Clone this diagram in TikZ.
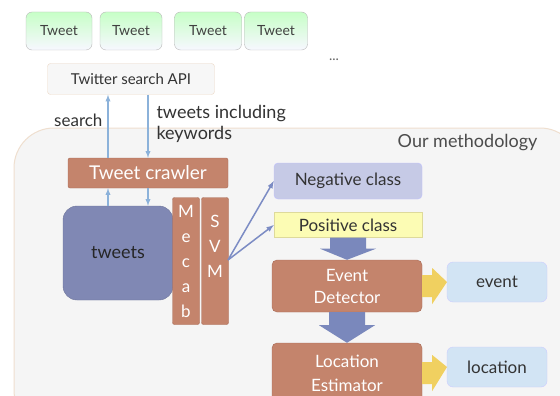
\documentclass[tikz,border=0pt]{standalone}
\usepackage{fontspec}
\setmainfont{Lato}
\usetikzlibrary{calc}
\definecolor{brownbox}{HTML}{C4846C}
\definecolor{brownline}{HTML}{A86A56}
\definecolor{tweetsblue}{HTML}{8088B4}
\definecolor{thinarrow}{HTML}{8CB2DA}
\definecolor{svmarrow}{HTML}{7C8CC4}
\definecolor{bigblue}{HTML}{7A88BC}
\definecolor{bigyellow}{HTML}{F0D060}
\definecolor{negfill}{HTML}{C6CAE6}
\definecolor{posfill}{HTML}{FCFCB4}
\definecolor{outfill}{HTML}{D2E4F4}
\tikzset{
  tweetbox/.style={draw=gray!55,rounded corners=6pt,top color=green!22,bottom color=blue!3,
    minimum height=38pt,text=black!75,font=\fontsize{14}{16}\selectfont},
  brownbox/.style={draw=brownline,fill=brownbox,text=white,rounded corners=2pt},
  bar/.style={brownbox,minimum width=27pt,minimum height=127pt},
  bartext/.style={text=white,align=center,font=\fontsize{17}{25}\selectfont},
  outbox/.style={draw=blue!20,fill=outfill,rounded corners=6pt,minimum width=100pt,
    text=black!80,font=\fontsize{17}{19}\selectfont},
  classbox/.style={minimum width=148pt,text=black!80,font=\fontsize{17}{19}\selectfont},
  thin/.style={draw=thinarrow,line width=1.3pt,-latex},
  svmline/.style={draw=svmarrow,line width=1.5pt,-latex}
}
\begin{document}
\begin{tikzpicture}[x=1pt,y=-1pt]
\useasboundingbox (0,0) rectangle (560,396);
\fill[white] (0,0) rectangle (560,396);
\draw[draw=brown!25,fill=black!4,rounded corners=40pt,line width=1pt] (14,128) rectangle (580,430);
\node[text=black!70,font=\fontsize{18}{20}\selectfont,anchor=east] (ourm) at (541,143) {Our methodology};

\node[tweetbox,minimum width=66pt] (tw1) at (59,31) {Tweet};
\node[tweetbox,minimum width=62pt] (tw2) at (131,31) {Tweet};
\node[tweetbox,minimum width=67pt] (tw3) at (208,31) {Tweet};
\node[tweetbox,minimum width=63pt] (tw4) at (276,31) {Tweet};
\node[text=black!60,font=\fontsize{14}{16}\selectfont] (dots) at (334,60) {...};
\node[draw=brown!30,fill=black!3,rounded corners=3pt,minimum width=167pt,minimum height=31pt,
  text=black!80,font=\fontsize{15}{17}\selectfont] (api) at (131,79) {Twitter search API};

\node[brownbox,minimum width=160pt,minimum height=30pt,font=\fontsize{19}{21}\selectfont] (crawler) at (148,173) {Tweet crawler};
\node[fill=tweetsblue,draw=tweetsblue!85!black,rounded corners=14pt,minimum width=110pt,minimum height=94pt,
  text=black!85,font=\fontsize{18}{20}\selectfont] (tweets) at (118,253) {tweets};
\node[bar] (mecab) at (186,261) {};
\node[bartext,below=4pt] (mecabtxt) at (mecab.north) {M\\e\\c\\a\\b};
\node[bar] (svm) at (215,261) {};
\node[bartext,below=14pt] (svmtxt) at (svm.north) {S\\V\\M};

\draw[thin] (crawler.north -| 108,0) -- (api.south -| 108,0);
\draw[thin] (tweets.north -| 108,0) -- (crawler.south -| 108,0);
\draw[thin] (api.south -| 148,0) -- (crawler.north -| 148,0);
\draw[thin] (crawler.south -| 148,0) -- (tweets.north -| 148,0);
\node[text=black!80,font=\fontsize{17}{19}\selectfont,anchor=east] (searchlbl) at (106,120) {search};
\node[text=black!80,font=\fontsize{18}{21}\selectfont,align=left,anchor=north west] (kwlbl) at (153,102) {tweets including\\keywords};

\node[classbox,draw=blue!25,fill=negfill,rounded corners=4pt,minimum height=36pt] (neg) at (348,181) {Negative class};
\node[classbox,draw=yellow!50!gray!60,fill=posfill,minimum height=25pt] (pos) at (348,225) {Positive class};
\coordinate (svmout) at (228,260);
\draw[svmline] (svmout) -- (neg.west);
\draw[svmline] (svmout) -- (pos.west);

\node[brownbox,rounded corners=5pt,minimum width=150pt,minimum height=52pt,align=center,
  font=\fontsize{17}{22}\selectfont] (evdet) at (347,286) {Event\\Detector};
\node[brownbox,rounded corners=5pt,minimum width=150pt,minimum height=60pt,align=center,
  font=\fontsize{17}{24}\selectfont] (locest) at (347,373) {Location\\Estimator};
\node[outbox,minimum height=40pt] (event) at (497,282) {event};
\node[outbox,minimum height=40pt] (location) at (497,367) {location};

% block arrows
\fill[bigblue] ($(pos.south)+(-18,0)$) -- ++(36,0) -- ++(0,11) -- ++(10,0) -- (evdet.north)
  -- ($(pos.south)+(-28,11)$) -- ++(10,0) -- cycle;
\fill[bigblue] ($(evdet.south)+(-18,0)$) -- ++(36,0) -- ++(0,13) -- ++(10,0) -- (locest.north)
  -- ($(evdet.south)+(-28,13)$) -- ++(10,0) -- cycle;
\fill[bigyellow] ($(evdet.east)+(0,-11)$) -- ++(10,0) -- ++(0,-7) -- (event.west -| 447,0)
  -- ($(evdet.east)+(10,18)$) -- ++(0,-7) -- ++(-10,0) -- cycle;
\fill[bigyellow] ($(locest.east)+(0,-11)$) -- ++(10,0) -- ++(0,-7) -- (location.west -| 447,0)
  -- ($(locest.east)+(10,18)$) -- ++(0,-7) -- ++(-10,0) -- cycle;
\end{tikzpicture}
\end{document}
